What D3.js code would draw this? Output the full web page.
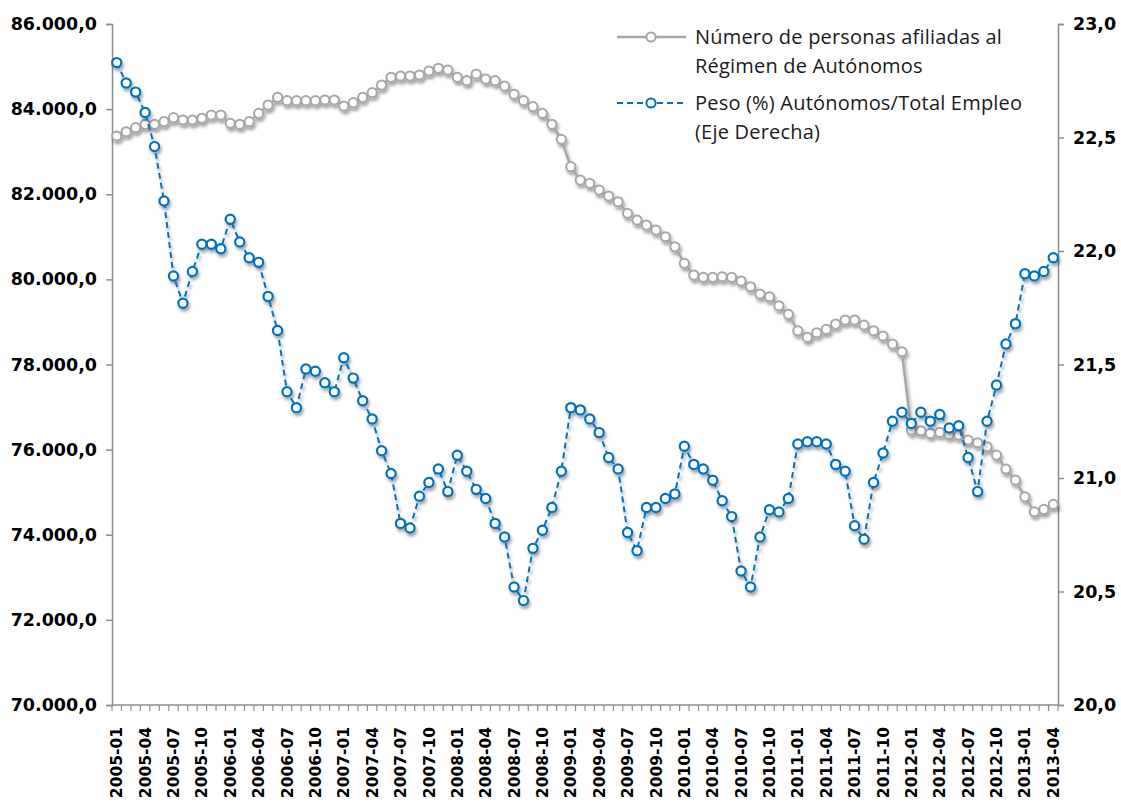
<!DOCTYPE html>
<html>
<head>
<meta charset="utf-8">
<script src="https://cdn.jsdelivr.net/npm/d3@7/dist/d3.min.js"></script>
<style>
  body { margin: 0; background: #fff; }
  .tick text { font-family: "DejaVu Sans", sans-serif; font-weight: bold; fill: #000; }
  .legend text { font-family: "Open Sans", sans-serif; font-size: 20px; letter-spacing: 0.2px; fill: #1a1a1a; }
</style>
</head>
<body>
<svg id="chart"></svg>
<script>
// afiliados al RETA (eje izquierdo) y peso % autonomos / total empleo (eje derecho)
var afiliados = [
  83368, 83469, 83563, 83643, 83643, 83704, 83798, 83744, 83744, 83784, 83861, 83861,
  83666, 83643, 83704, 83901, 84096, 84277, 84198, 84198, 84198, 84198, 84214, 84214,
  84073, 84151, 84277, 84386, 84566, 84747, 84778, 84778, 84801, 84895, 84959, 84919,
  84747, 84668, 84825, 84707, 84668, 84543, 84348, 84198, 84057, 83901, 83643, 83290,
  82647, 82334, 82256, 82099, 81958, 81824, 81551, 81394, 81276, 81159, 81002, 80767,
  80376, 80101, 80047, 80047, 80062, 80047, 79960, 79827, 79655, 79592, 79380, 79178,
  78793, 78637, 78746, 78825, 78950, 79044, 79044, 78926, 78793, 78668, 78480, 78299,
  76459, 76443, 76381, 76405, 76358, 76341, 76224, 76161, 76067, 75871, 75542, 75284,
  74892, 74539, 74595, 74713
];
var peso = [
  22.83, 22.74, 22.70, 22.61, 22.46, 22.22, 21.89, 21.77, 21.91, 22.03, 22.03, 22.01,
  22.14, 22.04, 21.97, 21.95, 21.80, 21.65, 21.38, 21.31, 21.48, 21.47, 21.42, 21.38,
  21.53, 21.44, 21.34, 21.26, 21.12, 21.02, 20.80, 20.78, 20.92, 20.98, 21.04, 20.94,
  21.10, 21.03, 20.95, 20.91, 20.80, 20.74, 20.52, 20.46, 20.69, 20.77, 20.87, 21.03,
  21.31, 21.30, 21.26, 21.20, 21.09, 21.04, 20.76, 20.68, 20.87, 20.87, 20.91, 20.93,
  21.14, 21.06, 21.04, 20.99, 20.90, 20.83, 20.59, 20.52, 20.74, 20.86, 20.85, 20.91,
  21.15, 21.16, 21.16, 21.15, 21.06, 21.03, 20.79, 20.73, 20.98, 21.11, 21.25, 21.29,
  21.24, 21.29, 21.25, 21.28, 21.22, 21.23, 21.09, 20.94, 21.25, 21.41, 21.59, 21.68,
  21.90, 21.89, 21.91, 21.97
];

// meses 2005-01 .. 2013-04
var meses = [];
for (var a = 2005; a <= 2013; a++) {
  for (var m = 1; m <= 12; m++) {
    if (a == 2013 && m > 4) break;
    meses.push(a + "-" + (m < 10 ? "0" + m : m));
  }
}
var etiquetas = meses.filter(function(d, i) { return i % 3 == 0; });

var leftTicks = [70000, 72000, 74000, 76000, 78000, 80000, 82000, 84000, 86000];
var rightTicks = [20.0, 20.5, 21.0, 21.5, 22.0, 22.5, 23.0];

var nombres = [
  ["Número de personas afiliadas al", "Régimen de Autónomos"],
  ["Peso (%) Autónomos/Total Empleo", "(Eje Derecha)"]
];

var W = 1121, H = 803;
var plot = {left: 112, right: 1058, top: 24, bottom: 705};

var es = d3.formatLocale({decimal: ",", thousands: ".", grouping: [3], currency: ["", " €"]});
var fmt = es.format(",.1f");

var svg = d3.select("#chart").attr("width", W).attr("height", H);

var defs = svg.append("defs");
var f = defs.append("filter").attr("id", "sombra")
    .attr("x", "-10%").attr("y", "-10%").attr("width", "130%").attr("height", "130%");
f.append("feDropShadow").attr("dx", 1.5).attr("dy", 3).attr("stdDeviation", 1.8)
    .attr("flood-color", "#000").attr("flood-opacity", 0.35);

var x = d3.scaleBand().domain(meses).range([plot.left, plot.right]).padding(0);
var cx = function(d) { return x(d) + x.bandwidth() / 2; };
var y0 = d3.scaleLinear().domain([70000, 86000]).range([plot.bottom, plot.top]);
var y1 = d3.scaleLinear().domain([20, 23]).range([plot.bottom, plot.top]);

// eje izquierdo
var yAxisL = svg.append("g")
    .attr("transform", "translate(" + plot.left + ",0)")
    .call(d3.axisLeft(y0).tickValues(leftTicks).tickSize(6).tickPadding(9).tickFormat(fmt));
yAxisL.selectAll("text").style("font-size", "17.5px");

// eje derecho
var yAxisR = svg.append("g")
    .attr("transform", "translate(" + plot.right + ",0)")
    .call(d3.axisRight(y1).tickValues(rightTicks).tickSize(6).tickPadding(9).tickFormat(fmt));
yAxisR.selectAll("text").style("font-size", "17.5px");

// eje inferior: marcas entre categorias
var xAxis = svg.append("g").attr("transform", "translate(0," + plot.bottom + ")");
xAxis.append("line")
    .attr("x1", plot.left).attr("x2", plot.right)
    .attr("stroke", "#8c8c8c").attr("stroke-width", 1.5);
xAxis.selectAll("line.marca")
    .data(meses.concat(["fin"]))
    .enter().append("line")
    .attr("class", "marca")
    .attr("x1", function(d) { return d == "fin" ? plot.right : x(d); })
    .attr("x2", function(d) { return d == "fin" ? plot.right : x(d); })
    .attr("y1", 0).attr("y2", 6)
    .attr("stroke", "#8c8c8c").attr("stroke-width", 1.2);

var xLab = svg.append("g")
    .attr("transform", "translate(0," + plot.bottom + ")")
    .call(d3.axisBottom(x).tickValues(etiquetas).tickSize(0).tickPadding(0));
xLab.select(".domain").remove();
xLab.selectAll("text")
    .style("font-size", "15.5px")
    .attr("text-anchor", "end")
    .attr("transform", "rotate(-90)")
    .attr("x", -22).attr("y", 0).attr("dy", "0.36em");

[yAxisL, yAxisR].forEach(function(g) {
  g.select(".domain").attr("stroke", "#8c8c8c").attr("stroke-width", 1.5);
  g.selectAll(".tick line").attr("stroke", "#8c8c8c").attr("stroke-width", 1.5);
});

// serie gris (eje izquierdo)
var gris = "#a6a6a6", azul = "#0070c0";
var lineaA = d3.line().x(function(d, i) { return cx(meses[i]); }).y(function(d) { return y0(d); });
var gA = svg.append("g").attr("filter", "url(#sombra)");
gA.append("path").datum(afiliados).attr("d", lineaA)
    .attr("fill", "none").attr("stroke", gris).attr("stroke-width", 2.5);
gA.selectAll("circle").data(afiliados).enter().append("circle")
    .attr("cx", function(d, i) { return cx(meses[i]); })
    .attr("cy", function(d) { return y0(d); })
    .attr("r", 4.6).attr("fill", "#fff").attr("stroke", gris).attr("stroke-width", 2);

// serie azul (eje derecho)
var lineaP = d3.line().x(function(d, i) { return cx(meses[i]); }).y(function(d) { return y1(d); });
var gP = svg.append("g").attr("filter", "url(#sombra)");
gP.append("path").datum(peso).attr("d", lineaP)
    .attr("fill", "none").attr("stroke", azul).attr("stroke-width", 2)
    .attr("stroke-dasharray", "6,4");
gP.selectAll("circle").data(peso).enter().append("circle")
    .attr("cx", function(d, i) { return cx(meses[i]); })
    .attr("cy", function(d) { return y1(d); })
    .attr("r", 4.6).attr("fill", "#fff").attr("stroke", azul).attr("stroke-width", 2.2);

// leyenda
var leg = svg.append("g").attr("class", "legend");
var legY = [37, 103];
nombres.forEach(function(n, k) {
  var col = k == 0 ? gris : azul;
  leg.append("line").attr("x1", 617).attr("x2", 686).attr("y1", legY[k]).attr("y2", legY[k])
      .attr("stroke", col).attr("stroke-width", k == 0 ? 2.5 : 2)
      .attr("stroke-dasharray", k == 0 ? null : "6,4");
  leg.append("circle").attr("cx", 651).attr("cy", legY[k]).attr("r", 4.6)
      .attr("fill", "#fff").attr("stroke", col).attr("stroke-width", 2);
  n.forEach(function(t, j) {
    leg.append("text").attr("x", 695).attr("y", legY[k] + j * 29).attr("dy", "0.35em").text(t);
  });
});
</script>
</body>
</html>
